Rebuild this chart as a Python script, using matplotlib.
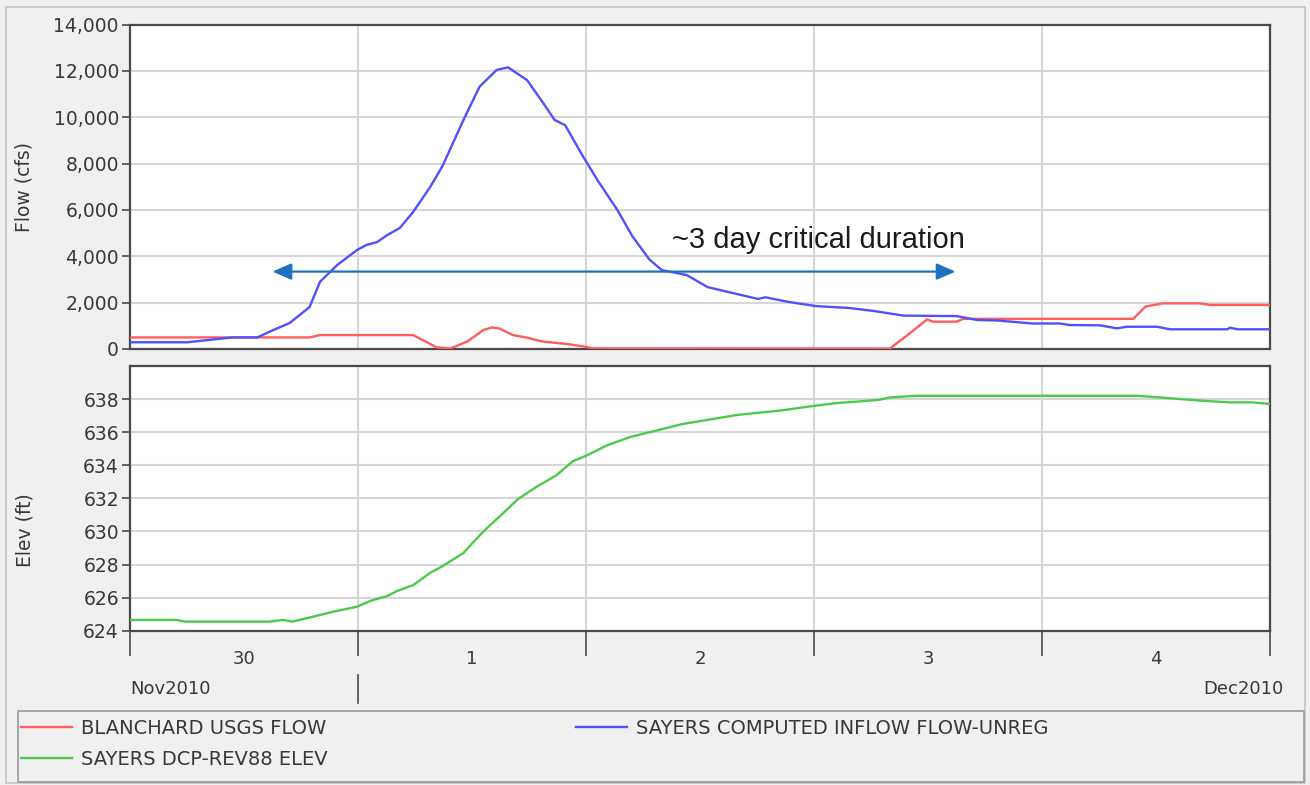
import numpy as np
import matplotlib.pyplot as plt
from matplotlib.ticker import FuncFormatter, FixedLocator, FixedFormatter, NullFormatter
from matplotlib.patches import Rectangle

plt.rcParams['font.family'] = ['DejaVu Sans']

# hours after 30 Nov 2010 00:00
blue_hr = [0, 6.0, 8.5, 10.8, 13.4, 15.1, 16.8, 18.9, 20.0, 21.8, 23.9, 24.9, 26.0, 27.1, 28.4,
           29.8, 31.6, 32.9, 35.1, 36.8, 38.6, 39.8, 41.8, 43.5, 44.7, 45.8, 47.7, 49.2, 51.3,
           52.9, 54.7, 56.0, 58.6, 60.8, 63.5, 66.1, 66.9, 69.2, 72.2, 75.7, 78.3, 81.4, 87.0,
           89.2, 91.3, 95.0, 97.9, 98.9, 102.1, 103.9, 104.9, 108.1, 109.5, 115.5, 115.8, 116.6, 120]
blue_cfs = [290, 290, 400, 500, 500, 820, 1120, 1810, 2900, 3620, 4270, 4490, 4610, 4920, 5220,
            5910, 6990, 7900, 9880, 11320, 12040, 12150, 11600, 10610, 9880, 9660, 8300, 7290, 6000,
            4850, 3850, 3400, 3190, 2670, 2410, 2160, 2230, 2040, 1850, 1770, 1640, 1440, 1420,
            1250, 1230, 1100, 1100, 1035, 1020, 890, 960, 960, 850, 850, 920, 850, 850]

red_hr = [0, 18.9, 20.0, 29.8, 32.3, 33.7, 35.5, 37.2, 38.1, 38.9, 40.3, 41.8, 43.2, 44.2, 46.3,
          47.7, 48.7, 80.0, 80.7, 82.1, 83.9, 84.5, 87.0, 87.7, 105.6, 106.9, 108.7, 112.6, 113.7, 120]
red_cfs = [500, 500, 600, 600, 70, 20, 320, 820, 930, 880, 600, 490, 340, 290, 200,
           110, 30, 20, 245, 680, 1280, 1180, 1180, 1300, 1300, 1830, 1970, 1970, 1900, 1900]

elev_hr = [0, 4.9, 5.8, 14.7, 16.1, 17.1, 19.3, 21.4, 23.9, 25.3, 27.1, 28.1, 29.8, 31.6, 32.9,
           35.1, 37.2, 38.9, 40.8, 42.8, 44.9, 46.6, 48.1, 50.2, 52.6, 54.7, 58.2, 61.4, 63.9,
           66.6, 68.4, 71.6, 74.4, 76.8, 78.9, 80.0, 82.8, 106.0, 109.5, 112.9, 115.8, 118.2, 120]
elev_ft = [624.65, 624.65, 624.55, 624.55, 624.65, 624.55, 624.85, 625.15, 625.45, 625.8, 626.1,
           626.4, 626.75, 627.5, 627.9, 628.7, 630.0, 630.9, 631.94, 632.7, 633.4, 634.24, 634.6,
           635.2, 635.7, 636.0, 636.5, 636.8, 637.04, 637.2, 637.3, 637.56, 637.76, 637.86, 637.96,
           638.1, 638.2, 638.2, 638.05, 637.9, 637.8, 637.8, 637.7]

day_labels = ['30', '1', '2', '3', '4']
series_names = ['BLANCHARD USGS FLOW', 'SAYERS COMPUTED INFLOW FLOW-UNREG', 'SAYERS DCP-REV88 ELEV']

# critical duration arrow (hours, cfs)
arrow_start, arrow_end, arrow_cfs = 15.0, 86.9, 3340
note_text = '~3 day critical duration'

day_edges = np.arange(0, 121, 24)
day_mid = day_edges[:-1] + 12

W, H = 1310.0, 785.0
def box(l, t, r, b):
    return [l / W, 1 - b / H, (r - l) / W, (b - t) / H]

txt_col = '#383838'
fig = plt.figure(figsize=(13.1, 7.85), dpi=100, facecolor='#f0f0f0')
ax1 = fig.add_axes(box(130, 24.5, 1270, 349))
ax2 = fig.add_axes(box(130, 366, 1270, 630.7))

for ax in (ax1, ax2):
    ax.set_xlim(0, 120)
    ax.set_xticks(day_edges)
    ax.set_axisbelow(True)
    ax.grid(True, color='#d6d6d6', lw=1.5)
    for sp in ax.spines.values():
        sp.set_color('#4a4a4a')
        sp.set_linewidth(1.6)
    ax.tick_params(axis='y', direction='out', length=6, width=1.2, color='#4a4a4a',
                   labelsize=13.5, labelcolor=txt_col, pad=2)

red_line, = ax1.plot(red_hr, red_cfs, color='#ff5c5c', lw=1.7, zorder=3)
blue_line, = ax1.plot(blue_hr, blue_cfs, color='#5050ff', lw=1.7, zorder=3)
ax1.set_ylim(0, 14000)
ax1.set_yticks(np.arange(0, 14001, 2000))
ax1.yaxis.set_major_formatter(FuncFormatter(lambda v, p: '{:,.0f}'.format(v)))
ax1.tick_params(axis='x', length=0, labelbottom=False)
ax1.set_ylabel('Flow (cfs)', fontsize=13.5, color=txt_col)
ax1.yaxis.set_label_coords(-0.085, 0.5)

ax1.annotate('', xy=(arrow_end, arrow_cfs), xytext=(arrow_start, arrow_cfs),
             arrowprops=dict(arrowstyle='<|-|>,head_length=1.15,head_width=0.5',
                             color='#1f72bd', lw=1.6, shrinkA=0, shrinkB=0, mutation_scale=10))
ax1.text(57.0, 4370, note_text, fontsize=21, family=['Liberation Sans'],
         va='baseline', ha='left', color='#1a1a1a')

green_line, = ax2.plot(elev_hr, elev_ft, color='#4cc84c', lw=1.7, zorder=3)
ax2.set_ylim(624, 640)
ax2.set_yticks(np.arange(624, 639, 2))
ax2.set_ylabel('Elev (ft)', fontsize=13.5, color=txt_col)
ax2.yaxis.set_label_coords(-0.084, 0.38)

ax2.xaxis.set_major_formatter(NullFormatter())
ax2.xaxis.set_minor_locator(FixedLocator(day_mid))
ax2.xaxis.set_minor_formatter(FixedFormatter(day_labels))
ax2.tick_params(axis='x', which='major', direction='out', length=18, width=1.2, color='#4a4a4a')
ax2.tick_params(axis='x', which='minor', length=0, pad=14, labelsize=13, labelcolor=txt_col)

# month row
xt = ax2.get_xaxis_transform()
ax2.text(0, -0.22, 'Nov2010', transform=xt, ha='left', va='center', fontsize=13, color=txt_col)
ax2.text(121.4, -0.22, 'Dec2010', transform=xt, ha='right', va='center', fontsize=13, color=txt_col)
ax2.plot([24, 24], [-0.167, -0.273], transform=xt, clip_on=False, color='#4a4a4a', lw=1.2)

# legend panel
fig.add_artist(Rectangle((6 / W, 1 - 783 / H), 1299 / W, 776 / H, transform=fig.transFigure,
                         fill=False, edgecolor='#c4c4c4', lw=1.2))
fig.add_artist(Rectangle((18 / W, 1 - 782 / H), 1286 / W, 71 / H, transform=fig.transFigure,
                         fill=False, edgecolor='#9a9a9a', lw=1.2))
leg_kw = dict(loc='upper left', frameon=False, fontsize=14, handlelength=2.6,
              handletextpad=0.5, labelspacing=0.6, borderpad=0, borderaxespad=0)
for t in fig.legend([red_line, green_line], [series_names[0], series_names[2]],
                    bbox_to_anchor=(21 / W, 1 - 719 / H), **leg_kw).get_texts():
    t.set_color(txt_col)
for t in fig.legend([blue_line], [series_names[1]],
                    bbox_to_anchor=(576 / W, 1 - 719 / H), **leg_kw).get_texts():
    t.set_color(txt_col)

fig.savefig('out.png', dpi=100, facecolor=fig.get_facecolor())
